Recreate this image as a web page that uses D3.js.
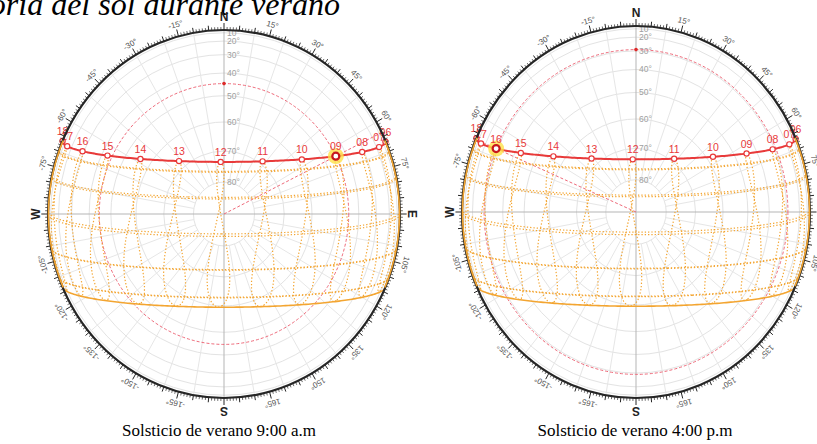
<!DOCTYPE html>
<html>
<head>
<meta charset="utf-8">
<script src="https://d3js.org/d3.v7.min.js"></script>
<style>
body { margin: 0; background: #fff; }
svg { display: block; font-family: "Liberation Sans", Arial, sans-serif; }
</style>
</head>
<body>
<div id="chart"></div>
<script>
// site latitude (deg N), read from the noon altitudes of the two solstice paths
var latitude = 7;
// clock offset of the 12 o'clock point (deg west of north)
var clockShift = 1.6;

// sun declination (deg) and equation of time (min) on days 1, 11, 21 of each month
var dayDecl = [-23.0, -21.8, -20.1, -17.2, -14.3, -10.8, -7.8, -4.0, 0.0, 4.4, 8.1, 11.7,
               15.0, 17.8, 20.1, 22.0, 23.1, 23.44, 23.1, 22.0, 20.4, 18.0, 15.3, 12.2,
               8.3, 4.6, 0.8, -3.1, -6.9, -10.6, -14.4, -17.4, -19.9, -21.8, -23.0, -23.44];
var dayEot = [-3.2, -7.7, -11.2, -13.5, -14.2, -13.8, -12.5, -10.2, -7.4, -4.0, -1.2, 1.1,
              2.9, 3.6, 3.5, 2.2, 0.3, -1.7, -3.8, -5.4, -6.4, -6.3, -5.3, -3.3,
              0.0, 3.3, 6.8, 10.2, 13.1, 15.3, 16.4, 15.9, 14.0, 11.0, 6.8, 1.9];

var monthNames = ["Ene", "Feb", "Mar", "Abr", "May", "Jun", "Jul", "Ago", "Sep", "Oct", "Nov", "Dic"];
var currentDay = 17;   // 21 June
var winterDay = 35;    // 21 December

var hours = [6, 7, 8, 9, 10, 11, 12, 13, 14, 15, 16, 17, 18];
var hourLabels = ["06", "07", "08", "09", "10", "11", "12", "13", "14", "15", "16", "17", "18"];
var altRings = [10, 20, 30, 40, 50, 60, 70, 80];
var azTicks = [-165, -150, -135, -120, -105, -75, -60, -45, -30, -15, 15, 30, 45, 60, 75, 105, 120, 135, 150, 165];
var cardinals = [{az: 0, t: "N"}, {az: 90, t: "E"}, {az: 180, t: "S"}, {az: -90, t: "W"}];

var panels = [
  {cx: 224, cy: 214, rx: 176, ry: 184, sunHour: 9, caption: "Solsticio de verano 9:00 a.m", capX: 219},
  {cx: 636, cy: 212, rx: 174, ry: 186, sunHour: 16, caption: "Solsticio de verano 4:00 p.m", capX: 635}
];

var svg = d3.select("#chart").append("svg")
  .attr("width", 817)
  .attr("height", 444);

var R0 = 1000;
var proj = d3.geoOrthographic()
  .rotate([0, -latitude])
  .scale(R0)
  .translate([0, 0])
  .clipAngle(90);
var zenith = [0, latitude];

function hourAngle(h, eot) { return 15 * (h - 12) + eot / 4 + clockShift; }
function skyPoint(h, i) { return [-hourAngle(h, dayEot[i]), dayDecl[i]]; }
function dayCircle(decl) {
  return {type: "LineString", coordinates: d3.geoCircle().center([0, 90]).radius(90 - decl).precision(1)().coordinates[0]};
}

var orange = "#f3a531";
var red = "#e8393a";

// title (cut off at the top-left in the original)
svg.append("text")
  .attr("x", 340).attr("y", 15)
  .attr("text-anchor", "end")
  .style("font-family", "'Liberation Serif', 'Times New Roman', serif")
  .style("font-style", "italic")
  .style("font-size", "32px")
  .text("Trayectoria del sol durante verano");

panels.forEach(function(p) {
  var sx = d3.scaleLinear().domain([-1, 1]).range([p.cx - p.rx, p.cx + p.rx]);
  var sy = d3.scaleLinear().domain([-1, 1]).range([p.cy + p.ry, p.cy - p.ry]);
  var stretch = d3.geoTransform({point: function(x, y) { this.stream.point(sx(x / R0), sy(-y / R0)); }});
  var path = d3.geoPath({stream: function(s) { return proj.stream(stretch.stream(s)); }});
  function toScreen(ll) { var q = proj(ll); return [sx(q[0] / R0), sy(-q[1] / R0)]; }
  function polar(az, r) { var a = az * Math.PI / 180; return [sx(r * Math.sin(a)), sy(r * Math.cos(a))]; }

  var g = svg.append("g");

  // altitude rings
  g.selectAll(".ring").data(altRings).enter().append("ellipse")
    .attr("cx", p.cx).attr("cy", p.cy)
    .attr("rx", function(d) { return sx(Math.cos(d * Math.PI / 180)) - p.cx; })
    .attr("ry", function(d) { return p.cy - sy(Math.cos(d * Math.PI / 180)); })
    .attr("fill", "none").attr("stroke", "#e3e3e3").attr("stroke-width", 1);

  // azimuth spokes
  var spokes = d3.range(0, 360, 10).filter(function(a) { return a % 90 !== 0; });
  g.selectAll(".spoke").data(spokes).enter().append("line")
    .attr("x1", function(d) { return polar(d, Math.cos(80 * Math.PI / 180))[0]; })
    .attr("y1", function(d) { return polar(d, Math.cos(80 * Math.PI / 180))[1]; })
    .attr("x2", function(d) { return polar(d, 1)[0]; })
    .attr("y2", function(d) { return polar(d, 1)[1]; })
    .attr("stroke", "#e6e6e6").attr("stroke-width", 1);

  // main axes
  [[0, 180], [90, 270]].forEach(function(ax) {
    var a = polar(ax[0], 1), b = polar(ax[1], 1);
    g.append("line").attr("x1", a[0]).attr("y1", a[1]).attr("x2", b[0]).attr("y2", b[1])
      .attr("stroke", "#b5b5b5").attr("stroke-width", 1);
  });

  // altitude labels
  g.selectAll(".altlab").data(altRings).enter().append("text")
    .attr("x", p.cx + 3)
    .attr("y", function(d) { return sy(Math.cos(d * Math.PI / 180)); })
    .attr("dy", "0.35em")
    .style("font-size", "8.5px").attr("fill", "#a0a0a0")
    .text(function(d) { return d + "°"; });

  // current sun position
  var sun = skyPoint(p.sunHour, currentDay);
  var zen = Math.sin(d3.geoDistance(sun, zenith));
  var sp = toScreen(sun);
  var ux = (sp[0] - p.cx) / p.rx, uy = (p.cy - sp[1]) / p.ry;
  var un = Math.sqrt(ux * ux + uy * uy);
  g.append("ellipse")
    .attr("cx", p.cx).attr("cy", p.cy)
    .attr("rx", p.rx * zen).attr("ry", p.ry * zen)
    .attr("fill", "none").attr("stroke", "#ee6a7a").attr("stroke-width", 1)
    .attr("stroke-dasharray", "3,2");
  g.append("line")
    .attr("x1", p.cx).attr("y1", p.cy)
    .attr("x2", sx(ux / un)).attr("y2", sy(uy / un))
    .attr("stroke", "#ee6a7a").attr("stroke-width", 1)
    .attr("stroke-dasharray", "3,2");
  g.append("circle")
    .attr("cx", p.cx).attr("cy", sy(zen)).attr("r", 1.8)
    .attr("fill", "#dd2a2a");

  // monthly day paths (21st of each month)
  monthNames.forEach(function(m, k) {
    var i = k * 3 + 2;
    g.append("path")
      .datum(dayCircle(dayDecl[i]))
      .attr("d", path)
      .attr("fill", "none")
      .attr("stroke", orange)
      .attr("stroke-width", i === winterDay ? 1.6 : 1.2)
      .attr("stroke-dasharray", i === winterDay ? null : "1.3,2");
  });

  // hourly analemmas
  hours.forEach(function(h) {
    var coords = dayDecl.map(function(d, i) { return skyPoint(h, i); });
    coords.push(coords[0]);
    g.append("path")
      .datum({type: "LineString", coordinates: coords})
      .attr("d", path)
      .attr("fill", "none")
      .attr("stroke", orange)
      .attr("stroke-width", 1.2)
      .attr("stroke-dasharray", "1.3,2");
  });

  // current day path
  g.append("path")
    .datum(dayCircle(dayDecl[currentDay]))
    .attr("d", path)
    .attr("fill", "none")
    .attr("stroke", red)
    .attr("stroke-width", 2);

  // sun glow
  g.append("circle").attr("cx", sp[0]).attr("cy", sp[1]).attr("r", 8)
    .attr("fill", "#ffe14a").attr("opacity", 0.8);

  // hour markers
  var hp = hours.map(function(h, k) {
    var s = toScreen(skyPoint(h, currentDay));
    return {x: s[0], y: s[1], lab: hourLabels[k], h: h};
  });
  g.selectAll(".hr").data(hp).enter().append("circle")
    .attr("cx", function(d) { return d.x; })
    .attr("cy", function(d) { return d.y; })
    .attr("r", function(d) { return d.h === p.sunHour ? 3.5 : 2.6; })
    .attr("fill", "#fff")
    .attr("stroke", function(d) { return d.h === p.sunHour ? "#c8161d" : red; })
    .attr("stroke-width", function(d) { return d.h === p.sunHour ? 2.2 : 1.2; });
  g.selectAll(".hrlab").data(hp).enter().append("text")
    .attr("x", function(d) { return d.x; })
    .attr("y", function(d) { return d.y - 6; })
    .attr("text-anchor", "middle")
    .style("font-size", "10.5px")
    .attr("fill", red)
    .text(function(d) { return d.lab; });

  // rim with degree ticks
  g.append("ellipse")
    .attr("cx", p.cx).attr("cy", p.cy).attr("rx", p.rx).attr("ry", p.ry)
    .attr("fill", "none").attr("stroke", "#262626").attr("stroke-width", 2.2);
  var ticks = d3.range(0, 360, 1);
  g.selectAll(".tick").data(ticks).enter().append("line")
    .attr("x1", function(d) { return polar(d, 1)[0]; })
    .attr("y1", function(d) { return polar(d, 1)[1]; })
    .attr("x2", function(d) { return polar(d, 1 + (d % 15 === 0 ? 7 : d % 5 === 0 ? 5 : 3) / p.ry)[0]; })
    .attr("y2", function(d) { return polar(d, 1 + (d % 15 === 0 ? 7 : d % 5 === 0 ? 5 : 3) / p.ry)[1]; })
    .attr("stroke", "#262626").attr("stroke-width", function(d) { return d % 5 === 0 ? 1 : 0.7; });

  // orange arcs on the rim where the sun rises and sets
  var azSummer = Math.acos(Math.sin(dayDecl[currentDay] * Math.PI / 180) / Math.cos(latitude * Math.PI / 180)) * 180 / Math.PI;
  var azWinter = Math.acos(Math.sin(dayDecl[winterDay] * Math.PI / 180) / Math.cos(latitude * Math.PI / 180)) * 180 / Math.PI;
  var rimLine = d3.line().x(function(a) { return polar(a, 0.997)[0]; }).y(function(a) { return polar(a, 0.997)[1]; });
  [1, -1].forEach(function(sgn) {
    g.append("path")
      .attr("d", rimLine(d3.range(azSummer, azWinter, 1).concat([azWinter]).map(function(a) { return sgn * a; })))
      .attr("fill", "none").attr("stroke", orange).attr("stroke-width", 1.6);
  });

  // azimuth labels
  g.selectAll(".azlab").data(azTicks).enter().append("text")
    .attr("transform", function(d) { var q = polar(d, 1 + 12 / p.ry); return "translate(" + q[0] + "," + q[1] + ")rotate(" + d + ")"; })
    .attr("text-anchor", "middle")
    .attr("dy", "0.35em")
    .style("font-size", "8px")
    .attr("fill", "#555")
    .text(function(d) { return d + "°"; });
  g.selectAll(".card").data(cardinals).enter().append("text")
    .attr("transform", function(d) { var q = polar(d.az, 1 + 13 / p.ry); return "translate(" + q[0] + "," + q[1] + ")rotate(" + d.az + ")"; })
    .attr("text-anchor", "middle")
    .attr("dy", "0.35em")
    .style("font-size", "12px")
    .style("font-weight", "bold")
    .attr("fill", "#222")
    .text(function(d) { return d.t; });

  // caption
  svg.append("text")
    .attr("x", p.capX).attr("y", 436)
    .attr("text-anchor", "middle")
    .style("font-family", "'Liberation Serif', 'Times New Roman', serif")
    .style("font-size", "17px")
    .text(p.caption);
});
</script>
</body>
</html>
